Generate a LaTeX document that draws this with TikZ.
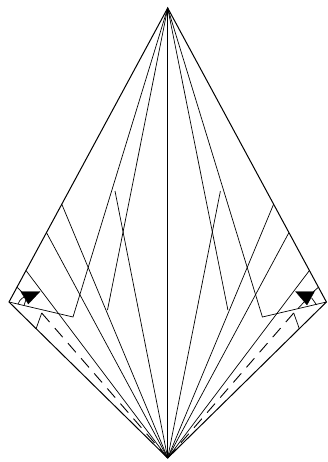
\documentclass[tikz,border=0pt]{standalone}
\begin{document}
\begin{tikzpicture}[
  x=1pt, y=-1pt,
  crease/.style={draw, line width=0.7pt},
  outline/.style={draw, line width=1pt},
  valley/.style={draw, line width=0.9pt, dash pattern=on 12pt off 8pt},
  flap/.style={fill=black, draw=black, line width=0.3pt}
]
\useasboundingbox (0,0) rectangle (327,462);
\coordinate (top) at (167.7,8);
\coordinate (bottom) at (167.7,458);
\coordinate (left) at (9,302);
\coordinate (right) at (326.4,302);
% creases from the top
\coordinate (foldL) at (73,317);
\coordinate (foldR) at (262.4,317);
\coordinate (tipL) at (107.5,310);
\coordinate (tipR) at (227.9,310);
\coordinate (highL) at (115,191);
\coordinate (highR) at (220.4,191);
% points on the outline
\coordinate (edgeLa) at (61.7,204);
\coordinate (edgeLb) at (46.7,233);
\coordinate (edgeLc) at (26,270.5);
\coordinate (edgeLd) at (16.7,287);
\coordinate (edgeRa) at (273.7,204);
\coordinate (edgeRb) at (288.7,233);
\coordinate (edgeRc) at (309.4,270.5);
\coordinate (edgeRd) at (318.7,287);
\coordinate (dashL) at (41.7,313);
\coordinate (dashR) at (293.7,313);
\coordinate (lowL) at (36,329);
\coordinate (lowR) at (299.4,329);

\draw[outline] (top) -- (left) -- (bottom) -- (right) -- cycle;
\draw[crease] (top) -- (bottom);
\draw[crease] (left) -- (foldL) -- (top) -- (foldR) -- (right);
\draw[crease] (top) -- (tipL);
\draw[crease] (top) -- (tipR);
\draw[crease] (bottom) -- (highL);
\draw[crease] (bottom) -- (highR);
\foreach \p in {edgeLa,edgeLb,edgeLc,edgeRa,edgeRb,edgeRc}
  \draw[crease] (\p) -- (bottom);
\draw[valley] (dashL) -- (bottom);
\draw[valley] (dashR) -- (bottom);
\draw[crease] (dashL) -- (lowL);
\draw[crease] (dashR) -- (lowR);
% flaps at the two side corners
\draw[crease] (edgeLd) -- (22,292);
\draw[crease] (edgeRd) -- (313,292);
\draw[flap] (20.7,291.5) -- (40,291.5) -- (28.3,304) -- cycle;
\draw[flap] (314.5,291.5) -- (295.5,291.5) -- (307,305) -- cycle;
\draw[crease] (18,304) .. controls (20,299) and (23,297) .. (27,296);
\draw[crease] (24,305.5) -- (26.5,298);
\draw[crease] (298.5,308) -- (305,301);
\draw[crease] (311.7,298) -- (316.7,305);
\end{tikzpicture}
\end{document}
